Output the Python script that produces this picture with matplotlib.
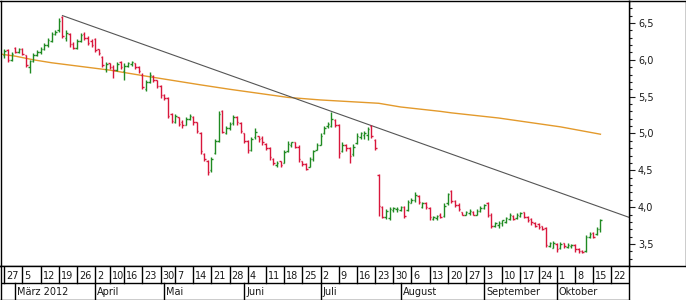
import matplotlib
matplotlib.use("Agg")
import matplotlib.pyplot as plt
import numpy as np
import pandas as pd
from matplotlib.ticker import MultipleLocator, FuncFormatter
from matplotlib.collections import LineCollection

# ---------------- data ----------------
axis_start = "2012-02-27"
axis_end = "2012-10-26"
holidays = ["2012-04-06", "2012-04-09", "2012-05-01"]

opens = [6.06, 6.13, 6.00, 6.16, 6.11, 6.15, 6.06, 5.90, 5.98, 6.06,
         6.10, 6.14, 6.20, 6.26, 6.35, 6.40, 6.58, 6.30, 6.35, 6.22,
         6.16, 6.25, 6.35, 6.30, 6.26, 6.28, 6.14, 6.04, 5.88, 5.95,
         5.90, 5.86, 5.97, 5.85, 5.92, 5.94, 5.95, 5.90, 5.80, 5.60,
         5.70, 5.78, 5.72, 5.65, 5.52, 5.48, 5.26, 5.16, 5.22, 5.16,
         5.12, 5.20, 5.22, 5.15, 5.00, 4.72, 4.62, 4.50, 4.73, 4.90,
         5.30, 5.00, 5.07, 5.14, 5.22, 5.14, 5.00, 4.90, 4.78, 4.95,
         4.96, 4.94, 4.86, 4.80, 4.66, 4.57, 4.62, 4.60, 4.76, 4.84,
         4.88, 4.82, 4.62, 4.58, 4.55, 4.65, 4.78, 4.85, 5.00, 5.10,
         5.10, 5.18, 5.12, 4.76, 4.85, 4.80, 4.72, 4.87, 4.95, 4.98,
         4.98, 5.10, 4.91, 4.44, 4.00, 3.86, 3.85, 3.96, 3.97, 3.96,
         4.00, 3.96, 4.06, 4.10, 4.15, 4.00, 4.06, 3.99, 3.84, 3.85,
         3.90, 3.88, 4.05, 4.22, 4.08, 4.03, 3.93, 3.90, 3.92, 3.94,
         3.90, 3.95, 3.99, 4.06, 3.90, 3.74, 3.76, 3.78, 3.80, 3.84,
         3.88, 3.85, 3.88, 3.93, 3.87, 3.84, 3.79, 3.77, 3.74, 3.72,
         3.47, 3.45, 3.50, 3.44, 3.51, 3.46, 3.47, 3.49, 3.43, 3.41,
         3.40, 3.60, 3.65, 3.63, 3.70]
highs = [6.14, 6.15, 6.10, 6.17, 6.16, 6.16, 6.07, 6.00, 6.09, 6.13,
         6.17, 6.23, 6.30, 6.38, 6.40, 6.57, 6.60, 6.40, 6.36, 6.24,
         6.28, 6.36, 6.38, 6.32, 6.28, 6.30, 6.15, 6.05, 5.97, 5.96,
         5.93, 5.97, 5.99, 5.96, 5.97, 5.98, 5.96, 5.92, 5.82, 5.72,
         5.83, 5.80, 5.73, 5.66, 5.53, 5.49, 5.28, 5.27, 5.23, 5.18,
         5.22, 5.26, 5.24, 5.16, 5.02, 4.73, 4.64, 4.68, 4.92, 5.30,
         5.32, 5.10, 5.16, 5.25, 5.24, 5.15, 5.01, 4.91, 4.95, 5.07,
         4.97, 4.96, 4.87, 4.82, 4.67, 4.63, 4.63, 4.78, 4.90, 4.89,
         4.89, 4.84, 4.63, 4.60, 4.68, 4.78, 4.87, 5.00, 5.10, 5.15,
         5.29, 5.19, 5.13, 4.88, 4.86, 4.81, 4.86, 5.00, 5.02, 5.03,
         5.09, 5.12, 4.92, 4.45, 4.01, 3.98, 4.00, 4.00, 4.00, 4.02,
         4.01, 4.10, 4.12, 4.20, 4.16, 4.07, 4.07, 4.00, 3.88, 3.90,
         3.92, 4.05, 4.19, 4.23, 4.10, 4.05, 3.94, 3.95, 3.97, 3.95,
         3.97, 4.01, 4.04, 4.07, 3.92, 3.80, 3.81, 3.83, 3.87, 3.92,
         3.89, 3.92, 3.94, 3.94, 3.88, 3.85, 3.80, 3.78, 3.75, 3.73,
         3.53, 3.54, 3.51, 3.53, 3.52, 3.51, 3.50, 3.50, 3.45, 3.42,
         3.62, 3.66, 3.66, 3.73, 3.84]
lows = [6.03, 5.97, 5.99, 6.09, 6.09, 6.06, 5.90, 5.82, 5.97, 6.05,
        6.08, 6.13, 6.17, 6.24, 6.33, 6.38, 6.29, 6.26, 6.18, 6.14,
        6.15, 6.24, 6.27, 6.20, 6.17, 6.10, 6.07, 5.90, 5.84, 5.88,
        5.75, 5.85, 5.88, 5.73, 5.90, 5.92, 5.88, 5.82, 5.60, 5.57,
        5.68, 5.70, 5.62, 5.48, 5.45, 5.21, 5.14, 5.14, 5.10, 5.08,
        5.11, 5.18, 5.12, 5.00, 4.72, 4.62, 4.43, 4.48, 4.72, 4.88,
        5.00, 4.99, 5.05, 5.12, 5.12, 5.00, 4.87, 4.73, 4.76, 4.93,
        4.88, 4.85, 4.77, 4.64, 4.57, 4.55, 4.55, 4.60, 4.75, 4.82,
        4.80, 4.61, 4.56, 4.50, 4.54, 4.62, 4.77, 4.84, 4.99, 5.08,
        5.09, 5.09, 4.67, 4.75, 4.76, 4.60, 4.70, 4.86, 4.93, 4.93,
        4.91, 4.94, 4.78, 3.88, 3.85, 3.84, 3.83, 3.94, 3.94, 3.95,
        3.85, 3.95, 4.05, 4.07, 4.04, 3.99, 3.98, 3.83, 3.83, 3.83,
        3.85, 3.87, 4.03, 4.05, 4.00, 3.95, 3.89, 3.89, 3.90, 3.89,
        3.89, 3.94, 3.97, 3.87, 3.72, 3.73, 3.72, 3.75, 3.78, 3.83,
        3.82, 3.84, 3.87, 3.85, 3.80, 3.76, 3.73, 3.71, 3.69, 3.46,
        3.46, 3.44, 3.39, 3.43, 3.44, 3.45, 3.45, 3.39, 3.38, 3.38,
        3.39, 3.58, 3.58, 3.62, 3.66]
closes = [6.12, 6.00, 6.08, 6.11, 6.15, 6.08, 5.93, 5.98, 6.06, 6.10,
          6.15, 6.20, 6.27, 6.35, 6.38, 6.52, 6.32, 6.36, 6.22, 6.16,
          6.25, 6.33, 6.29, 6.23, 6.20, 6.13, 6.09, 5.93, 5.94, 5.90,
          5.86, 5.94, 5.90, 5.92, 5.95, 5.97, 5.90, 5.85, 5.63, 5.70,
          5.80, 5.72, 5.65, 5.52, 5.48, 5.24, 5.17, 5.24, 5.13, 5.12,
          5.20, 5.24, 5.15, 5.03, 4.76, 4.65, 4.48, 4.65, 4.90, 5.27,
          5.02, 5.08, 5.13, 5.22, 5.15, 5.04, 4.90, 4.77, 4.92, 5.02,
          4.92, 4.88, 4.80, 4.68, 4.60, 4.60, 4.57, 4.75, 4.86, 4.88,
          4.82, 4.65, 4.58, 4.52, 4.65, 4.76, 4.84, 4.97, 5.08, 5.13,
          5.20, 5.12, 4.73, 4.85, 4.80, 4.70, 4.82, 4.96, 5.00, 5.00,
          5.06, 4.97, 4.80, 4.02, 3.87, 3.95, 3.97, 3.99, 3.98, 4.00,
          3.88, 4.07, 4.10, 4.17, 4.07, 4.05, 4.00, 3.86, 3.86, 3.88,
          3.86, 4.02, 4.18, 4.08, 4.03, 3.97, 3.90, 3.93, 3.95, 3.90,
          3.95, 3.99, 4.03, 3.90, 3.75, 3.78, 3.79, 3.82, 3.85, 3.90,
          3.84, 3.90, 3.92, 3.87, 3.83, 3.80, 3.75, 3.73, 3.70, 3.49,
          3.51, 3.52, 3.43, 3.50, 3.47, 3.49, 3.49, 3.43, 3.40, 3.39,
          3.60, 3.63, 3.60, 3.70, 3.82]

# moving average (read at trading-day positions)
ma_idx = [-1.05, 0, 3, 8, 13, 29, 40, 54, 62, 78, 87, 103, 109, 120, 123, 136, 153, 164]
ma_val = [6.08, 6.07, 6.05, 6.00, 5.96, 5.86, 5.77, 5.66, 5.60, 5.49, 5.455, 5.41,
          5.36, 5.30, 5.28, 5.21, 5.09, 4.99]

# trend line through the March high
trend_idx = [16, 164]
trend_val = [6.60, 4.00]

month_labels = {3: "März 2012", 4: "April", 5: "Mai", 6: "Juni", 7: "Juli",
                8: "August", 9: "September", 10: "Oktober"}

# ---------------- styles ----------------
GREEN = "#1f8a22"
RED = "#d8173c"
ORANGE = "#e39a2c"
TREND = "#555555"
TXT = "#1a1a1a"
FS = 7.0

W, H = 686, 300
fig = plt.figure(figsize=(W / 100, H / 100), dpi=100)
fig.patch.set_facecolor("white")

plot_top, plot_bot = 0.5, 265.7
plot_left, plot_right = 0.5, 629.0

ax = fig.add_axes([plot_left / W, (H - plot_bot) / H,
                   (plot_right - plot_left) / W, (plot_bot - plot_top) / H])

# trading days
days = pd.bdate_range(axis_start, axis_end)
days = days[~days.isin(pd.to_datetime(holidays))]

px_per_day = 3.635
px0 = 4.3
x_lo = (plot_left - px0) / px_per_day
x_hi = (plot_right - px0) / px_per_day
ax.set_xlim(x_lo, x_hi)
ax.set_ylim(3.2054, 6.805)

n = len(closes)
xs = np.arange(n)
o = np.array(opens); h = np.array(highs); l = np.array(lows); c = np.array(closes)
cols = [GREEN if c[i] >= o[i] else RED for i in range(n)]
tick = 0.42
segs = []
for i in range(n):
    segs.append([(xs[i], l[i]), (xs[i], h[i])])
    segs.append([(xs[i] - tick, o[i]), (xs[i], o[i])])
    segs.append([(xs[i], c[i]), (xs[i] + tick, c[i])])
seg_cols = [col for col in cols for _ in range(3)]
ax.add_collection(LineCollection(segs, colors=seg_cols, linewidths=1.0, zorder=3))

ax.plot(ma_idx, ma_val, color=ORANGE, lw=1.0, zorder=2)
slope = (trend_val[1] - trend_val[0]) / (trend_idx[1] - trend_idx[0])
ax.plot([trend_idx[0], x_hi], [trend_val[0], trend_val[0] + slope * (x_hi - trend_idx[0])],
        color=TREND, lw=0.8, zorder=2)

ax.set_xticks([])
ax.yaxis.tick_right()
ax.yaxis.set_major_locator(MultipleLocator(0.5))
ax.yaxis.set_minor_locator(MultipleLocator(0.1))
ax.yaxis.set_major_formatter(FuncFormatter(lambda v, p: f"{v:.1f}".replace(".", ",")))
ax.tick_params(axis="y", which="major", direction="out", length=4.5, width=0.8,
               labelsize=FS, pad=2, colors=TXT)
ax.tick_params(axis="y", which="minor", direction="out", length=2.5, width=0.8, colors=TXT)
for s in ax.spines.values():
    s.set_linewidth(1.0)
    s.set_color("black")

# right axis panel frame
axr = fig.add_axes([plot_right / W, (H - plot_bot) / H, (685.5 - plot_right) / W,
                    (plot_bot - plot_top) / H])
axr.patch.set_visible(False)
axr.set_xticks([]); axr.set_yticks([])
for s in axr.spines.values():
    s.set_linewidth(1.0)
    s.set_color("black")
axr.set_zorder(-1)

# date rows
date_bot = 299.5
dax = fig.add_axes([plot_left / W, (H - date_bot) / H, (plot_right - plot_left) / W,
                    (date_bot - plot_bot) / H])
dax.set_xlim(x_lo, x_hi)
dax.set_ylim(0, 2)
dax.set_xticks([]); dax.set_yticks([])
for s in dax.spines.values():
    s.set_linewidth(1.0)
    s.set_color("black")
mid = 0.96
dax.axhline(mid, color="black", lw=1.0)

dser = pd.Series(days)
wk = dser.dt.isocalendar().week.values
mo = dser.dt.month.values
off = 0.55
for i in range(len(days)):
    if i == 0 or wk[i] != wk[i - 1]:
        dax.plot([i, i], [mid, 2], color="black", lw=1.0)
        dax.text(i + off, (mid + 2) / 2 - 0.08, str(days[i].day), ha="left", va="center",
                 fontsize=FS, color=TXT)
    if i > 0 and mo[i] != mo[i - 1]:
        dax.plot([i, i], [0, mid], color="black", lw=1.0)
        dax.text(i + off, mid / 2 - 0.02, month_labels.get(mo[i], ""), ha="left",
                 va="center", fontsize=FS, color=TXT)

fig.savefig("out.png", dpi=100, facecolor="white")
